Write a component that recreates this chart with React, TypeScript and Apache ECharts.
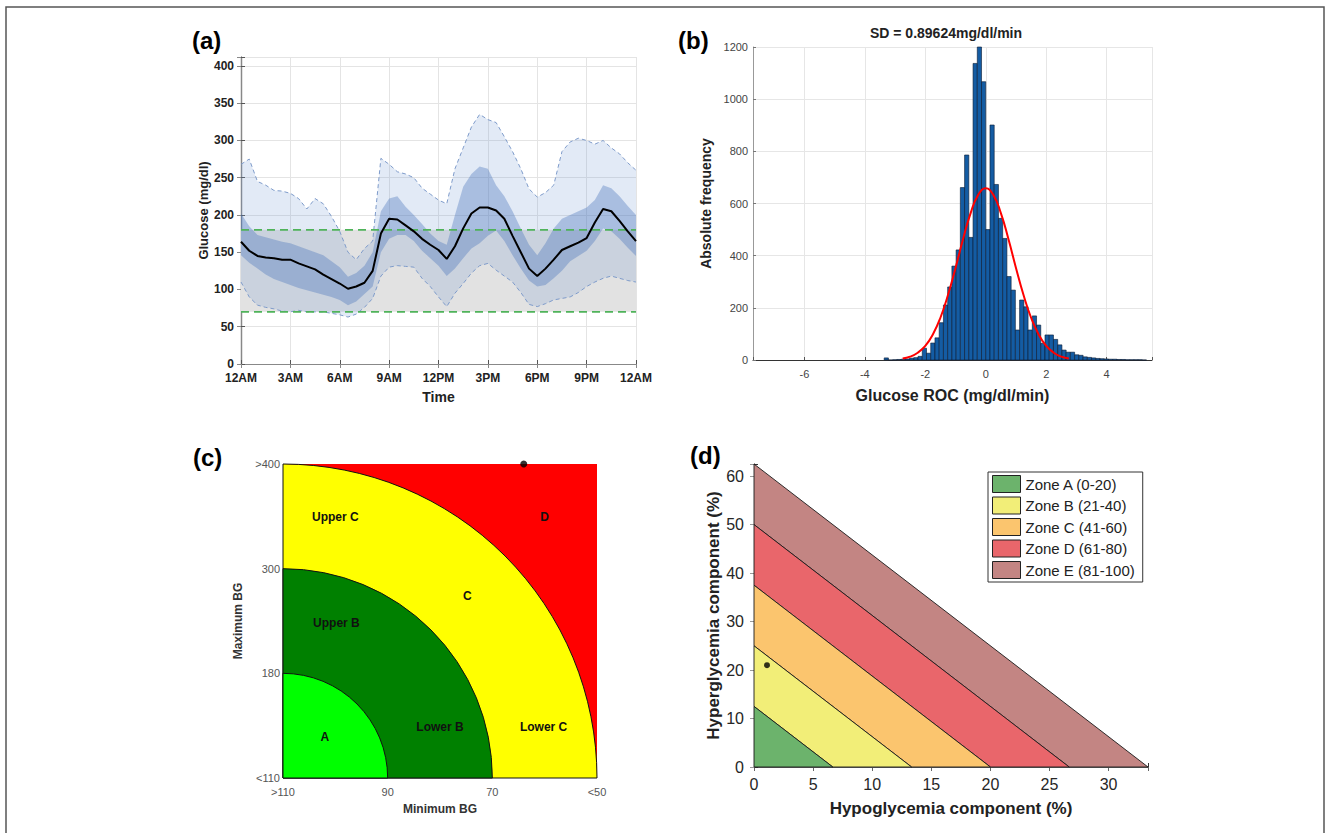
import React, { useEffect, useRef } from "react";
import * as echarts from "echarts";

const FONT = '"Liberation Sans", Arial, Helvetica, sans-serif';

// ---------- Panel (a): ambulatory glucose profile ----------
const hours = [0, 0.5, 1, 1.5, 2, 2.5, 3, 3.5, 4, 4.5, 5, 5.5, 6, 6.5, 7, 7.5, 8, 8.5, 9, 9.5, 10, 10.5, 11, 11.5, 12, 12.5, 13, 13.5, 14, 14.5, 15, 15.5, 16, 16.5, 17, 17.5, 18, 18.5, 19, 19.5, 20, 20.5, 21, 21.5, 22, 22.5, 23, 23.5, 24];
const timeLabels = ["12AM", "3AM", "6AM", "9AM", "12PM", "3PM", "6PM", "9PM", "12AM"];
const medianBG = [164, 152, 145, 143, 142, 140, 140, 135, 131, 127, 120, 114, 108, 101, 104, 109, 125, 175, 195, 194, 186, 178, 168, 160, 153, 141, 158, 182, 202, 210, 210, 206, 195, 172, 150, 128, 118, 128, 140, 153, 158, 163, 169, 190, 208, 205, 192, 178, 165];
const p75BG = [202, 185, 173, 170, 167, 164, 162, 158, 154, 150, 146, 138, 130, 117, 122, 132, 150, 205, 222, 225, 211, 200, 188, 175, 165, 160, 200, 238, 255, 265, 262, 240, 225, 205, 182, 160, 146, 162, 182, 195, 200, 205, 210, 220, 240, 236, 225, 212, 200];
const p25BG = [146, 136, 128, 120, 114, 110, 106, 102, 99, 96, 93, 90, 86, 79, 84, 94, 104, 150, 168, 173, 173, 165, 152, 142, 132, 118, 128, 142, 155, 162, 172, 179, 165, 146, 128, 112, 104, 106, 115, 125, 138, 145, 152, 165, 182, 178, 168, 156, 145];
const p95BG = [268, 275, 245, 240, 233, 232, 229, 222, 208, 222, 215, 198, 178, 150, 140, 155, 165, 276, 268, 258, 255, 250, 236, 228, 220, 215, 262, 290, 318, 335, 328, 324, 305, 285, 262, 235, 224, 230, 240, 285, 298, 303, 300, 295, 300, 290, 282, 270, 260];
const p5BG = [110, 90, 79, 76, 74, 71, 70, 72, 70, 70, 70, 68, 66, 63, 67, 76, 88, 118, 130, 132, 131, 130, 115, 104, 90, 77, 95, 108, 122, 132, 135, 126, 118, 110, 96, 80, 77, 81, 86, 88, 90, 96, 104, 110, 115, 118, 115, 112, 110];
const targetRange = [70, 180];

// ---------- Panel (b): glucose rate-of-change histogram ----------
const rocBinCenters = [-3.29, -3.15, -3.01, -2.87, -2.73, -2.59, -2.45, -2.31, -2.17, -2.03, -1.89, -1.75, -1.61, -1.47, -1.33, -1.19, -1.05, -0.91, -0.77, -0.63, -0.49, -0.35, -0.21, -0.07, 0.07, 0.21, 0.35, 0.49, 0.63, 0.77, 0.91, 1.05, 1.19, 1.33, 1.47, 1.61, 1.75, 1.89, 2.03, 2.17, 2.31, 2.45, 2.59, 2.73, 2.87, 3.01, 3.15, 3.29, 3.43, 3.57, 3.71, 3.85, 3.99, 4.13, 4.27, 4.41, 4.55, 4.69, 4.83, 4.97, 5.11, 5.25];
const rocCounts = [8, 0, 1, 2, 3, 4, 7, 9, 14, 45, 26, 65, 85, 143, 211, 280, 360, 422, 661, 786, 470, 1137, 1200, 1067, 500, 901, 673, 543, 466, 320, 268, 115, 230, 204, 115, 169, 134, 64, 96, 96, 79, 58, 38, 30, 30, 20, 18, 12, 10, 8, 6, 5, 4, 3, 3, 2, 2, 1, 1, 1, 1, 0];
const rocBinWidth = 0.14;
const rocFitX = [-2.75, -2.5, -2.25, -2, -1.75, -1.5, -1.25, -1, -0.75, -0.5, -0.25, 0, 0.25, 0.5, 0.75, 1, 1.25, 1.5, 1.75, 2, 2.25, 2.5, 2.75];
const rocFitY = [6, 13, 28, 54, 98, 162, 249, 353, 464, 563, 633, 658, 633, 563, 464, 353, 249, 162, 98, 54, 28, 13, 6];
const rocTitle = "SD = 0.89624mg/dl/min";

// ---------- Panel (c): control variability grid ----------
const minBGLabels = [">110", "90", "70", "<50"];
const maxBGLabels = ["<110", "180", "300", ">400"];
const cvgaRadii = [3, 2, 1];
const cvgaColors = ["#ffff00", "#008000", "#00ff00"];
const cvgaOuterColor = "#ff0000";
const cvgaZoneText = ["Upper C", "D", "C", "Upper B", "A", "Lower B", "Lower C"];
const cvgaZoneTextX = [0.5, 2.5, 1.76, 0.51, 0.4, 1.5, 2.49];
const cvgaZoneTextY = [2.49, 2.49, 1.74, 1.48, 0.39, 0.49, 0.49];
const cvgaPatient = [2.3, 3];

// ---------- Panel (d): glycemia risk index ----------
const griZoneNames = ["Zone A (0-20)", "Zone B (21-40)", "Zone C (41-60)", "Zone D (61-80)", "Zone E (81-100)"];
const griColors = ["#6cb36c", "#f2ee78", "#fbc56e", "#e9666b", "#c38583"];
const griHypoIntercepts = [6.667, 13.333, 20, 26.667, 33.333];
const griHyperIntercepts = [12.5, 25, 37.5, 50, 62.5];
const griPatient = [1.1, 21];

function buildOption(): any {
  const bandPolygon = (upper: number[], lower: number[], fill: string) => (params: any, api: any) => {
    const pts: number[][] = [];
    for (let i = 0; i < hours.length; i++) pts.push(api.coord([hours[i], upper[i]]));
    for (let i = hours.length - 1; i >= 0; i--) pts.push(api.coord([hours[i], lower[i]]));
    return { type: "polygon", shape: { points: pts }, style: { fill } };
  };

  const tickA = { fontFamily: FONT, fontSize: 12, fontWeight: "bold", color: "#222" };

  const series: any[] = [];
  // (a)
  series.push({
    type: "custom", xAxisIndex: 0, yAxisIndex: 0, z: 1, data: [[0, 0]], silent: true,
    renderItem: (params: any, api: any) => {
      const a = api.coord([hours[0], targetRange[0]]);
      const b = api.coord([hours[hours.length - 1], targetRange[1]]);
      return { type: "rect", shape: { x: a[0], y: b[1], width: b[0] - a[0], height: a[1] - b[1] }, style: { fill: "#e2e2e2" } };
    },
  });
  series.push({ type: "custom", xAxisIndex: 0, yAxisIndex: 0, z: 2, data: [[0, 0]], silent: true, renderItem: bandPolygon(p95BG, p5BG, "rgba(110,150,210,0.2)") });
  series.push({ type: "custom", xAxisIndex: 0, yAxisIndex: 0, z: 3, data: [[0, 0]], silent: true, renderItem: bandPolygon(p75BG, p25BG, "rgba(70,115,185,0.36)") });
  [p95BG, p5BG].forEach((arr) => {
    series.push({
      type: "line", xAxisIndex: 0, yAxisIndex: 0, z: 4, symbol: "none",
      data: hours.map((h, i) => [h, arr[i]]),
      lineStyle: { color: "#7e9bca", width: 1, type: [4, 3] },
    });
  });
  targetRange.forEach((v) => {
    series.push({
      type: "line", xAxisIndex: 0, yAxisIndex: 0, z: 5, symbol: "none",
      data: [[hours[0], v], [hours[hours.length - 1], v]],
      lineStyle: { color: "#4fb35a", width: 1.6, type: [8, 5] },
    });
  });
  series.push({
    type: "line", xAxisIndex: 0, yAxisIndex: 0, z: 6, symbol: "none",
    data: hours.map((h, i) => [h, medianBG[i]]),
    lineStyle: { color: "#000", width: 2 },
  });

  // (b)
  series.push({
    type: "custom", xAxisIndex: 2, yAxisIndex: 2, z: 2,
    data: rocBinCenters.map((c, i) => [c, rocCounts[i]]),
    encode: { x: 0, y: 1 },
    renderItem: (params: any, api: any) => {
      const c = api.value(0);
      const n = api.value(1);
      const p0 = api.coord([c - rocBinWidth / 2, n]);
      const p1 = api.coord([c + rocBinWidth / 2, 0]);
      return {
        type: "rect",
        shape: { x: p0[0], y: p0[1], width: p1[0] - p0[0], height: p1[1] - p0[1] },
        style: { fill: "#145ca3", stroke: "#0a1a30", lineWidth: 0.6 },
      };
    },
  });
  series.push({
    type: "line", xAxisIndex: 2, yAxisIndex: 2, z: 4, symbol: "none", smooth: true,
    data: rocFitX.map((x, i) => [x, rocFitY[i]]),
    lineStyle: { color: "#ff0000", width: 2 },
  });

  // (c)
  series.push({
    type: "custom", xAxisIndex: 3, yAxisIndex: 3, z: 1, data: [[0, 0]], silent: true,
    renderItem: (params: any, api: any) => {
      const a = api.coord([0, 0]);
      const b = api.coord([3, 3]);
      return { type: "rect", shape: { x: a[0], y: b[1], width: b[0] - a[0], height: a[1] - b[1] }, style: { fill: cvgaOuterColor } };
    },
  });
  series.push({
    type: "custom", xAxisIndex: 3, yAxisIndex: 3, z: 2, silent: true,
    data: cvgaRadii.map((r, i) => [r, i]),
    encode: { x: 0, y: 1 },
    renderItem: (params: any, api: any) => {
      const r = api.value(0);
      const idx = api.value(1);
      const o = api.coord([0, 0]);
      const e = api.coord([r, 0]);
      return {
        type: "sector",
        shape: { cx: o[0], cy: o[1], r0: 0, r: e[0] - o[0], startAngle: -Math.PI / 2, endAngle: 0, clockwise: true },
        style: { fill: cvgaColors[idx], stroke: "#111", lineWidth: 1 },
      };
    },
  });
  series.push({
    type: "custom", xAxisIndex: 3, yAxisIndex: 3, z: 3, silent: true,
    data: cvgaZoneText.map((t, i) => [cvgaZoneTextX[i], cvgaZoneTextY[i], i]),
    encode: { x: 0, y: 1 },
    renderItem: (params: any, api: any) => {
      const p = api.coord([api.value(0), api.value(1)]);
      return {
        type: "text", x: p[0], y: p[1],
        style: { text: cvgaZoneText[api.value(2)], fontFamily: FONT, fontSize: 12, fontWeight: "bold", fill: "#111", align: "center", verticalAlign: "middle" },
      };
    },
  });
  series.push({
    type: "scatter", xAxisIndex: 3, yAxisIndex: 3, z: 5, symbolSize: 7,
    data: [cvgaPatient], itemStyle: { color: "#000" },
  });

  // (d)
  for (let k = griZoneNames.length - 1; k >= 0; k--) {
    series.push({
      type: "custom", name: griZoneNames[k], xAxisIndex: 4, yAxisIndex: 4, z: 2,
      itemStyle: { color: griColors[k] },
      data: [[k, 0]],
      encode: { x: 0, y: 1 },
      renderItem: (params: any, api: any) => {
        const i = api.value(0);
        const loX = i === 0 ? 0 : griHypoIntercepts[i - 1];
        const loY = i === 0 ? 0 : griHyperIntercepts[i - 1];
        const pts = [
          api.coord([0, loY]),
          api.coord([0, griHyperIntercepts[i]]),
          api.coord([griHypoIntercepts[i], 0]),
          api.coord([loX, 0]),
        ];
        return { type: "polygon", shape: { points: pts }, style: { fill: griColors[i], stroke: "#1a1a1a", lineWidth: 0.9 } };
      },
    });
  }
  series.push({
    type: "scatter", xAxisIndex: 4, yAxisIndex: 4, z: 5, symbolSize: 6,
    data: [griPatient], itemStyle: { color: "#000" },
  });

  const splitA = { show: true, lineStyle: { color: "#e4e4e4", width: 1 } };

  return {
    animation: false,
    backgroundColor: "#ffffff",
    textStyle: { fontFamily: FONT },
    grid: [
      { left: 241, top: 57, width: 395, height: 307 },
      { left: 753, top: 47, width: 399, height: 313 },
      { left: 283, top: 464, width: 314, height: 314 },
      { left: 754, top: 464, width: 394, height: 303 },
    ],
    xAxis: [
      {
        gridIndex: 0, type: "value", min: 0, max: 24, interval: 3,
        name: "Time", nameLocation: "middle", nameGap: 26,
        nameTextStyle: { fontFamily: FONT, fontSize: 14, fontWeight: "bold", color: "#222" },
        axisLine: { show: true, lineStyle: { color: "#555", width: 1.2 } },
        axisTick: { show: true, inside: true, length: 4, lineStyle: { color: "#555" } },
        axisLabel: { ...tickA, margin: 8, formatter: (v: number) => timeLabels[Math.round(v / 3)] },
        splitLine: splitA,
      },
      {
        gridIndex: 0, type: "value", position: "top", min: 0, max: 24, interval: 3,
        axisLine: { show: true, lineStyle: { color: "#888", width: 1.2 } },
        axisTick: { show: true, inside: true, length: 4, lineStyle: { color: "#888" } },
        axisLabel: { show: false }, splitLine: { show: false },
      },
      {
        gridIndex: 1, type: "value", min: -7.7, max: 5.5, splitNumber: 6,
        name: "Glucose ROC (mg/dl/min)", nameLocation: "middle", nameGap: 27,
        nameTextStyle: { fontFamily: FONT, fontSize: 16, fontWeight: "bold", color: "#222" },
        axisLine: { show: true, onZero: false, lineStyle: { color: "#333", width: 1 } },
        axisTick: { show: true, inside: true, length: 3, lineStyle: { color: "#555" } },
        axisLabel: { fontFamily: FONT, fontSize: 11, color: "#444", margin: 8, formatter: (v: number) => (Number.isInteger(v) ? String(v) : "") },
        splitLine: { show: true, lineStyle: { color: "#e6e6e6" } },
      },
      {
        gridIndex: 2, type: "value", min: 0, max: 3, interval: 1,
        name: "Minimum BG", nameLocation: "middle", nameGap: 25,
        nameTextStyle: { fontFamily: FONT, fontSize: 12, fontWeight: "bold", color: "#333" },
        axisLine: { show: false }, axisTick: { show: false },
        axisLabel: { fontFamily: FONT, fontSize: 11, color: "#555", margin: 8, formatter: (v: number) => minBGLabels[Math.round(v)] },
        splitLine: { show: false },
      },
      {
        gridIndex: 3, type: "value", min: 0, max: 100 / 3, interval: 5,
        name: "Hypoglycemia component (%)", nameLocation: "middle", nameGap: 33,
        nameTextStyle: { fontFamily: FONT, fontSize: 17, fontWeight: "bold", color: "#222" },
        axisLine: { show: true, lineStyle: { color: "#333", width: 1 } },
        axisTick: { show: true, inside: true, length: 4, lineStyle: { color: "#333" } },
        axisLabel: { fontFamily: FONT, fontSize: 16, color: "#262626", margin: 9, formatter: (v: number) => (Math.abs(v % 5) < 1e-6 ? String(v) : "") },
        splitLine: { show: false },
      },
      {
        gridIndex: 3, type: "value", position: "top", min: 0, max: 100 / 3, interval: 5,
        axisLine: { show: true, lineStyle: { color: "#666", width: 1 } },
        axisTick: { show: true, inside: true, length: 4, lineStyle: { color: "#666" } },
        axisLabel: { show: false }, splitLine: { show: false },
      },
    ],
    yAxis: [
      {
        gridIndex: 0, type: "value", min: 0, max: 412, interval: 50,
        name: "Glucose (mg/dl)", nameLocation: "middle", nameGap: 31,
        nameTextStyle: { fontFamily: FONT, fontSize: 13, fontWeight: "bold", color: "#222" },
        axisLine: { show: true, lineStyle: { color: "#555", width: 1.2 } },
        axisTick: { show: true, inside: true, length: 4, lineStyle: { color: "#555" } },
        axisLabel: { ...tickA, margin: 7, formatter: (v: number) => (v % 50 === 0 ? String(v) : "") },
        splitLine: splitA,
      },
      {
        gridIndex: 0, type: "value", position: "right", min: 0, max: 412, interval: 50,
        axisLine: { show: true, lineStyle: { color: "#888", width: 1.2 } },
        axisTick: { show: true, inside: true, length: 4, lineStyle: { color: "#888" } },
        axisLabel: { show: false }, splitLine: { show: false },
      },
      {
        gridIndex: 1, type: "value", min: 0, max: 1200, interval: 200,
        name: "Absolute frequency", nameLocation: "middle", nameGap: 40,
        nameTextStyle: { fontFamily: FONT, fontSize: 14, fontWeight: "bold", color: "#222" },
        axisLine: { show: true, onZero: false, lineStyle: { color: "#999", width: 1 } },
        axisTick: { show: true, inside: true, length: 3, lineStyle: { color: "#777" } },
        axisLabel: { fontFamily: FONT, fontSize: 11, color: "#444", margin: 5, formatter: (v: number) => String(v) },
        splitLine: { show: true, lineStyle: { color: "#e6e6e6" } },
      },
      {
        gridIndex: 2, type: "value", min: 0, max: 3, interval: 1,
        name: "Maximum BG", nameLocation: "middle", nameGap: 39,
        nameTextStyle: { fontFamily: FONT, fontSize: 12, fontWeight: "bold", color: "#333" },
        axisLine: { show: false }, axisTick: { show: false },
        axisLabel: { fontFamily: FONT, fontSize: 11, color: "#555", margin: 3, formatter: (v: number) => maxBGLabels[Math.round(v)] },
        splitLine: { show: false },
      },
      {
        gridIndex: 3, type: "value", min: 0, max: 62.5, interval: 10,
        name: "Hyperglycemia component (%)", nameLocation: "middle", nameGap: 29,
        nameTextStyle: { fontFamily: FONT, fontSize: 17, fontWeight: "bold", color: "#222" },
        axisLine: { show: true, lineStyle: { color: "#333", width: 1 } },
        axisTick: { show: true, inside: true, length: 4, lineStyle: { color: "#333" } },
        axisLabel: { fontFamily: FONT, fontSize: 16, color: "#262626", margin: 10, formatter: (v: number) => (v % 10 === 0 ? String(v) : "") },
        splitLine: { show: false },
      },
      {
        gridIndex: 3, type: "value", position: "right", min: 0, max: 62.5, interval: 10,
        axisLine: { show: true, lineStyle: { color: "#999", width: 1 } },
        axisTick: { show: true, inside: true, length: 4, lineStyle: { color: "#999" } },
        axisLabel: { show: false }, splitLine: { show: false },
      },
    ],
    legend: {
      show: true, orient: "vertical", left: 988, top: 472,
      selectedMode: false,
      backgroundColor: "#fff", borderColor: "#333", borderWidth: 1,
      padding: [3, 8, 3, 4], itemGap: 3.5, itemWidth: 28, itemHeight: 17,
      textStyle: { fontFamily: FONT, fontSize: 15, color: "#222" },
      data: griZoneNames.map((n, i) => ({ name: n, icon: "rect", itemStyle: { color: griColors[i], borderColor: "#222", borderWidth: 1 } })),
    },
    graphic: [
      { type: "rect", shape: { x: 6, y: 7, width: 1318, height: 850 }, style: { fill: "none", stroke: "#555", lineWidth: 1.5 }, silent: true },
      { type: "text", x: 192, y: 28, style: { text: "(a)", fontFamily: FONT, fontSize: 24, fontWeight: "bold", fill: "#000" } },
      { type: "text", x: 678, y: 28, style: { text: "(b)", fontFamily: FONT, fontSize: 24, fontWeight: "bold", fill: "#000" } },
      { type: "text", x: 193, y: 445, style: { text: "(c)", fontFamily: FONT, fontSize: 24, fontWeight: "bold", fill: "#000" } },
      { type: "text", x: 690, y: 443, style: { text: "(d)", fontFamily: FONT, fontSize: 24, fontWeight: "bold", fill: "#000" } },
      { type: "text", x: 946, y: 33, style: { text: rocTitle, fontFamily: FONT, fontSize: 14, fontWeight: "bold", fill: "#222", align: "center", verticalAlign: "middle" } },
    ],
    series,
  };
}

export default function App() {
  const ref = useRef<HTMLDivElement>(null);
  useEffect(() => {
    if (!ref.current) return;
    const chart = echarts.init(ref.current, undefined, { renderer: "svg" });
    chart.setOption(buildOption());
    return () => chart.dispose();
  }, []);
  return (
    <div
      ref={ref}
      style={{ position: "absolute", left: 0, top: 0, width: 1330, height: 833, background: "#fff" }}
    />
  );
}
